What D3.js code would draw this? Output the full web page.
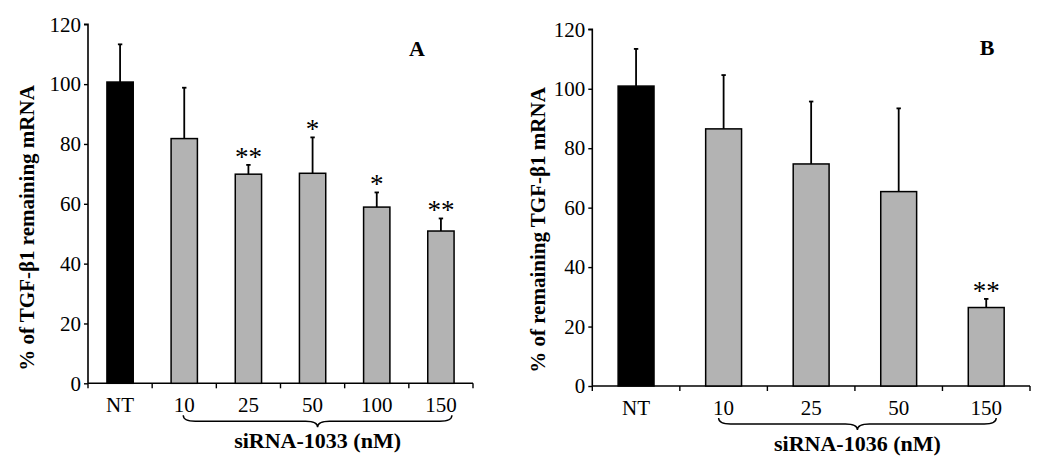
<!DOCTYPE html>
<html>
<head>
<meta charset="utf-8">
<script src="https://cdn.jsdelivr.net/npm/d3@7"></script>
<style>
  body { margin: 0; background: #fff; }
  svg { display: block; }
  text { font-family: "Liberation Serif", "Times New Roman", serif; fill: #000; }
</style>
</head>
<body>
<svg id="chart" width="1050" height="460"></svg>
<script>
// ---- Data ----
const categoriesA = ["NT", "10", "25", "50", "100", "150"];
const valuesA = [100.7, 81.8, 69.9, 70.2, 58.9, 50.9];
const errTopA = [113.3, 98.8, 73.0, 82.2, 63.8, 55.1];
const starsA = ["", "", "**", "*", "*", "**"];

const categoriesB = ["NT", "10", "25", "50", "150"];
const valuesB = [100.9, 86.5, 74.7, 65.4, 26.4];
const errTopB = [113.4, 104.6, 95.7, 93.4, 29.3];
const starsB = ["", "", "", "", "**"];

const yTicks = [0, 20, 40, 60, 80, 100, 120];

const svg = d3.select("#chart");

function panel(cfg) {
  const g = svg.append("g");
  const x = d3.scaleBand().domain(cfg.cats).range([cfg.x0, cfg.x1]).paddingInner(0.59).paddingOuter(0.295);
  const y = d3.scaleLinear().domain([0, 120]).range([cfg.y0, cfg.y1]);

  // y axis
  const ya = g.append("g").attr("transform", `translate(${cfg.x0},0)`)
    .call(d3.axisLeft(y).tickValues(yTicks).tickSize(4).tickPadding(3));
  ya.select(".domain").attr("stroke-width", 1.6).attr("d", `M-4,${cfg.y1}H0V${cfg.y0}`);
  ya.selectAll(".tick line").attr("stroke-width", 1.4);
  ya.selectAll(".tick text").attr("font-size", 21).attr("font-family", "Liberation Serif");

  // x axis line + ticks between categories
  const bounds = cfg.cats.map(c => x(c) - x.step() * x.paddingInner() / 2);
  bounds[0] = cfg.x0;
  bounds.push(cfg.x1);
  g.append("line").attr("x1", cfg.x0).attr("x2", cfg.x1).attr("y1", cfg.y0).attr("y2", cfg.y0)
    .attr("stroke", "#000").attr("stroke-width", 1.6);
  g.selectAll(".xt").data(bounds).join("line")
    .attr("x1", d => d).attr("x2", d => d).attr("y1", cfg.y0).attr("y2", cfg.y0 + 5)
    .attr("stroke", "#000").attr("stroke-width", 1.4);

  // x labels
  g.selectAll(".xl").data(cfg.cats).join("text")
    .attr("x", d => x(d) + x.bandwidth() / 2)
    .attr("y", cfg.y0 + 29)
    .attr("text-anchor", "middle").attr("font-size", 21).text(d => d);

  // error bars
  cfg.cats.forEach((c, i) => {
    const cx = x(c) + x.bandwidth() / 2;
    g.append("line").attr("x1", cx).attr("x2", cx).attr("y1", y(cfg.vals[i])).attr("y2", y(cfg.errs[i]))
      .attr("stroke", "#000").attr("stroke-width", 1.8);
    g.append("line").attr("x1", cx - 2.2).attr("x2", cx + 2.2).attr("y1", y(cfg.errs[i])).attr("y2", y(cfg.errs[i]))
      .attr("stroke", "#000").attr("stroke-width", 1.8);
  });

  // bars
  g.selectAll(".bar").data(cfg.cats).join("rect")
    .attr("x", d => x(d)).attr("width", x.bandwidth())
    .attr("y", (d, i) => y(cfg.vals[i])).attr("height", (d, i) => cfg.y0 - y(cfg.vals[i]))
    .attr("fill", (d, i) => i === 0 ? "#000" : "#b3b3b3")
    .attr("stroke", "#000").attr("stroke-width", 1.5);

  // stars
  g.selectAll(".star").data(cfg.cats).join("text")
    .attr("x", d => x(d) + x.bandwidth() / 2)
    .attr("y", (d, i) => y(cfg.errs[i]) + 1)
    .attr("text-anchor", "middle").attr("font-size", 27)
    .text((d, i) => cfg.stars[i]);

  // panel letter
  g.append("text").attr("x", cfg.letterX).attr("y", cfg.letterY).attr("text-anchor", "middle")
    .attr("font-size", 22).attr("font-weight", "bold").text(cfg.letter);

  // y label
  g.append("text").attr("transform", `translate(${cfg.ylabX},${cfg.ylabY}) rotate(-90)`)
    .attr("text-anchor", "middle").attr("font-size", 21).attr("font-weight", "bold").text(cfg.ylab);

  // brace
  const bx0 = x(cfg.cats[1]) + x.bandwidth() / 2 + cfg.braceL;
  const bx1 = x(cfg.cats[cfg.cats.length - 1]) + x.bandwidth() / 2 + cfg.braceR;
  const bm = (bx0 + bx1) / 2;
  const by0 = cfg.y0 + 32, by1 = cfg.y0 + 44;
  const byMid = (by0 + by1) / 2;
  const path = `M${bx0},${by0} Q${bx0},${byMid} ${bx0 + 12},${byMid} L${bm - 12},${byMid} Q${bm},${byMid} ${bm},${by1} Q${bm},${byMid} ${bm + 12},${byMid} L${bx1 - 12},${byMid} Q${bx1},${byMid} ${bx1},${by0}`;
  g.append("path").attr("d", path).attr("fill", "none").attr("stroke", "#000").attr("stroke-width", 1.4);

  g.append("text").attr("x", bm).attr("y", cfg.y0 + 65).attr("text-anchor", "middle")
    .attr("font-size", 22).attr("font-weight", "bold").text(cfg.xlab);
}

panel({
  cats: categoriesA, vals: valuesA, errs: errTopA, stars: starsA,
  x0: 88, x1: 473, y0: 383.3, y1: 24.3,
  letter: "A", letterX: 417, letterY: 56,
  ylab: "% of TGF-β1 remaining mRNA", ylabX: 34, ylabY: 228,
  xlab: "siRNA-1033 (nM)", braceL: -1, braceR: 11
});

panel({
  cats: categoriesB, vals: valuesB, errs: errTopB, stars: starsB,
  x0: 592.3, x1: 1030, y0: 386, y1: 29.3,
  letter: "B", letterX: 987, letterY: 55,
  ylab: "% of remaining TGF-β1 mRNA", ylabX: 545, ylabY: 230,
  xlab: "siRNA-1036 (nM)", braceL: -5, braceR: 10
});
</script>
</body>
</html>
